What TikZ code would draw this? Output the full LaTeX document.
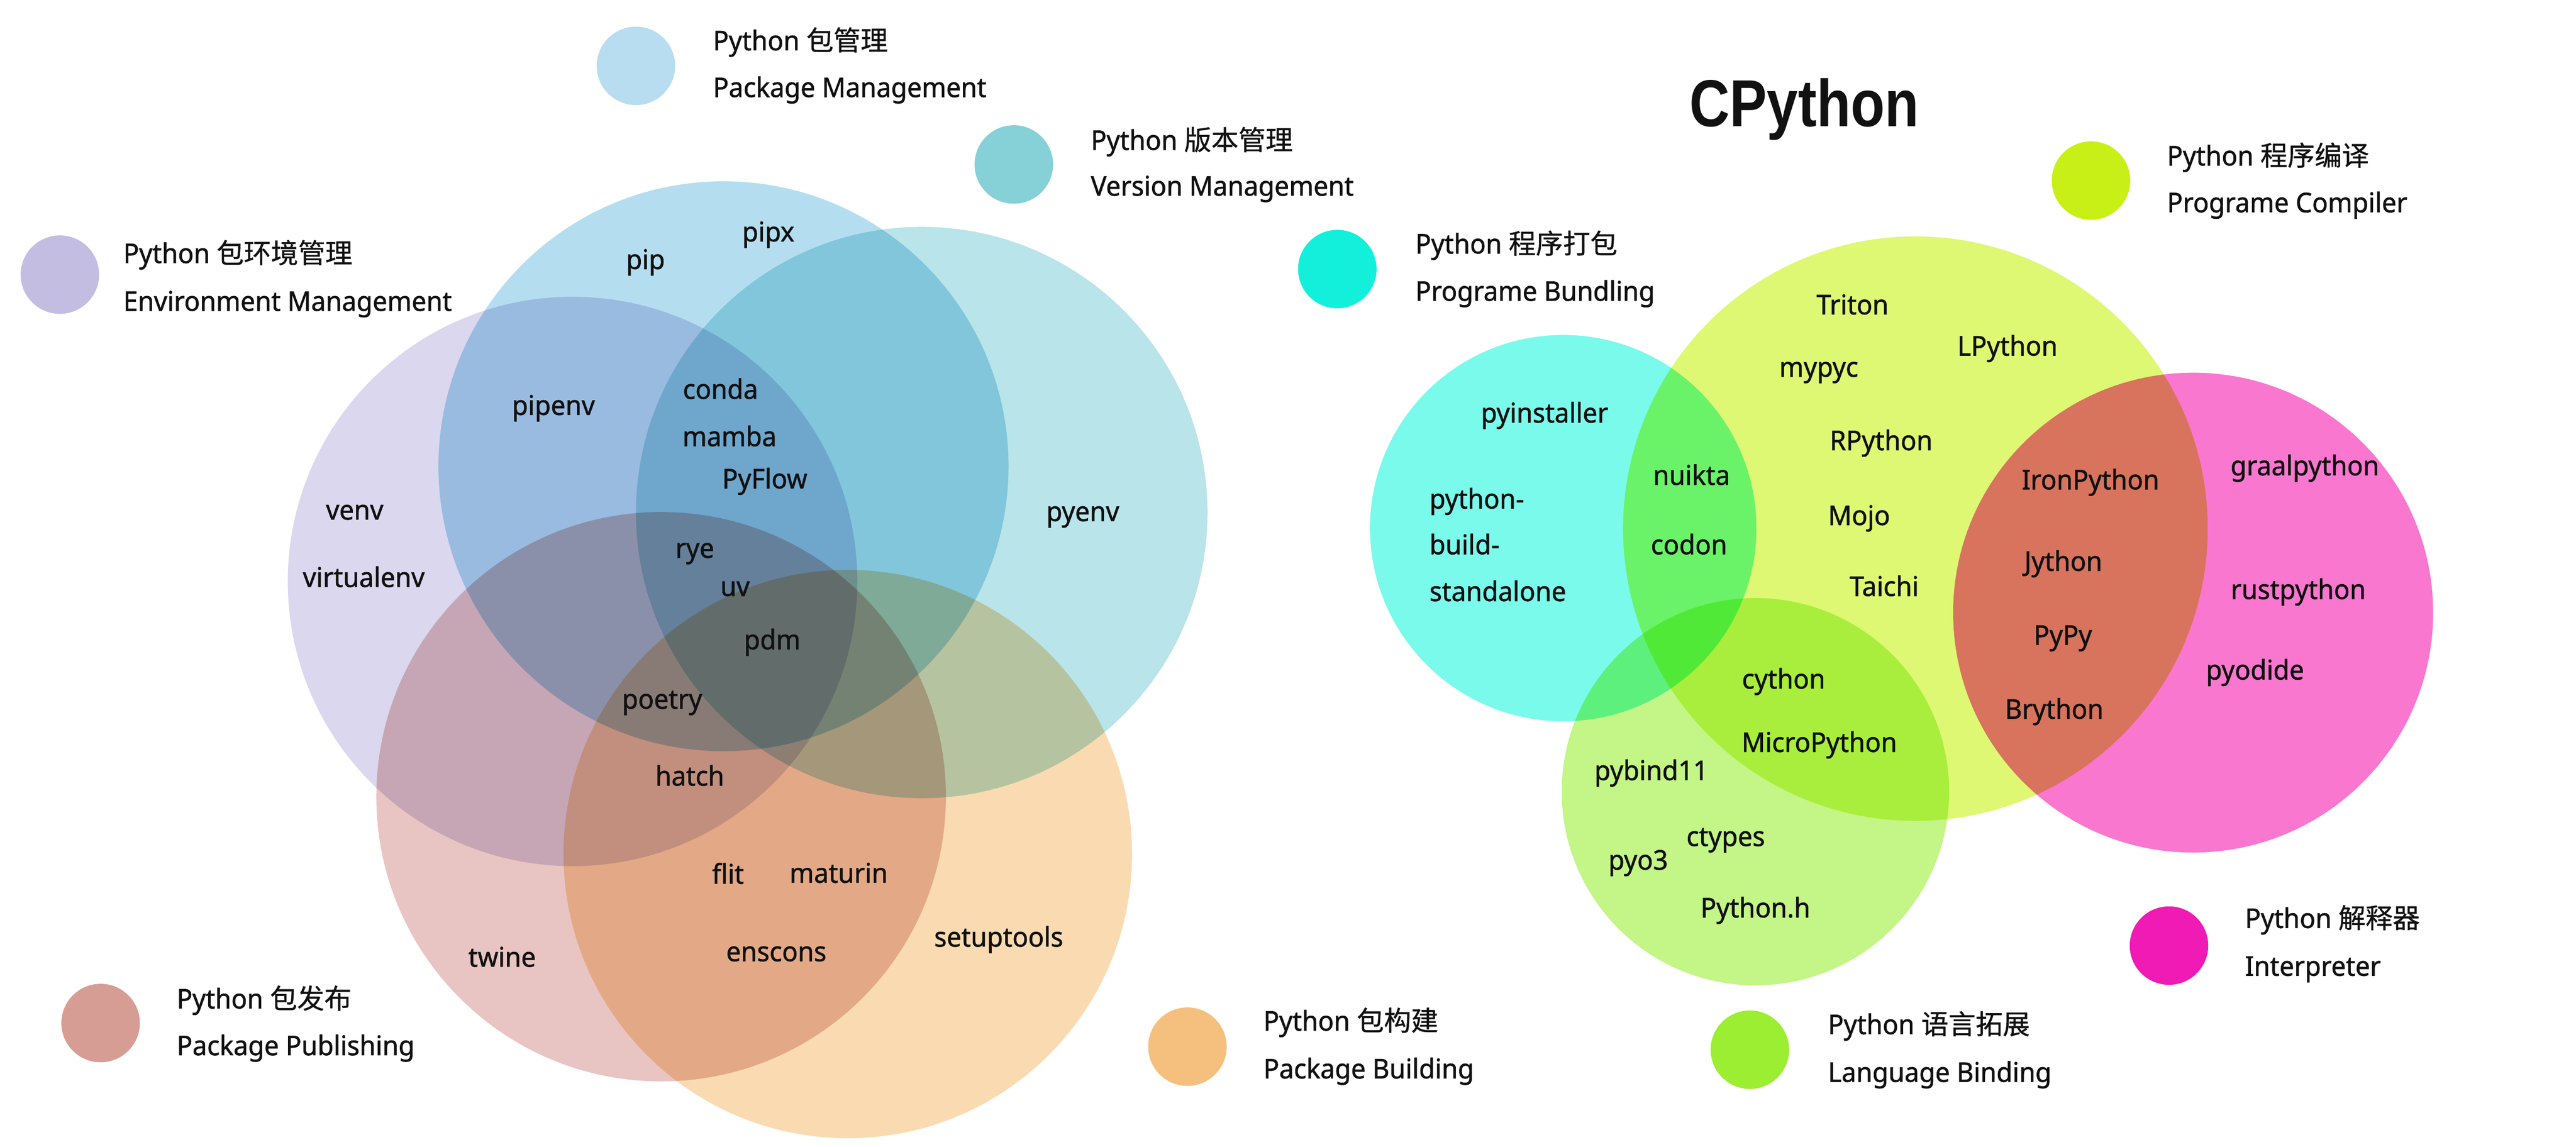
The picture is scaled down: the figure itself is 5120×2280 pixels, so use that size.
\documentclass[tikz,border=0pt]{standalone}
\usepackage{fontspec}
\setmainfont{Noto Sans}[FakeStretch=0.96, FakeBold=1.2]
\newfontfamily\cjk{Noto Sans CJK SC}[FakeBold=0.8]
\newfontfamily\titlefont{Liberation Sans}
\definecolor{cPM}{HTML}{B4DEF0}
\definecolor{cVM}{HTML}{B9E4E9}
\definecolor{cEM}{HTML}{DAD7EE}
\definecolor{cPP}{HTML}{E8C5C2}
\definecolor{cPB}{HTML}{FADBB1}
\definecolor{cBU}{HTML}{7AFAEB}
\definecolor{cCO}{HTML}{DEF873}
\definecolor{cIN}{HTML}{F977CF}
\definecolor{cLB}{HTML}{C3F587}
\definecolor{lPM}{HTML}{B8DDF0}
\definecolor{lVM}{HTML}{86D0D8}
\definecolor{lEM}{HTML}{C4BDE2}
\definecolor{lPP}{HTML}{D69D94}
\definecolor{lPB}{HTML}{F5C07E}
\definecolor{lBU}{HTML}{12F0DC}
\definecolor{lCO}{HTML}{C8F016}
\definecolor{lIN}{HTML}{F01AB4}
\definecolor{lLB}{HTML}{9BEE32}
\definecolor{ink}{HTML}{111111}
\begin{document}
\begin{tikzpicture}[x=1pt,y=-1pt,
  venn/.style={circle, draw=none, inner sep=0pt, minimum size=#1},
  lgd/.style={circle, draw=none, inner sep=0pt, minimum size=156pt},
  ltxt/.style={font=\fontsize{54}{60}\selectfont, text=ink, inner sep=0pt, anchor=base west},
  lbl/.style={font=\fontsize{54}{60}\selectfont, text=ink, inner sep=0pt, anchor=base},
  lblw/.style={font=\fontsize{54}{60}\selectfont, text=ink, inner sep=0pt, anchor=base west}]
\useasboundingbox (0,0) rectangle (5120,2280);
\fill[white] (0,0) rectangle (5120,2280);

\begin{scope}[blend mode=multiply]
% left Venn
\node[venn=1133pt, fill=cPM] (pm) at (1438,927) {};
\node[venn=1136pt, fill=cVM] (vm) at (1832,1019) {};
\node[venn=1132pt, fill=cEM] (em) at (1138,1156) {};
\node[venn=1132pt, fill=cPP] (pp) at (1314,1584) {};
\node[venn=1130pt, fill=cPB] (pb) at (1685,1698) {};
% right Venn
\node[venn=768pt, fill=cBU] (bu) at (3107,1050) {};
\node[venn=1162pt, fill=cCO] (co) at (3807,1051) {};
\node[venn=954pt, fill=cIN] (in) at (4359,1218) {};
\node[venn=770pt, fill=cLB] (lb) at (3489,1574) {};
\end{scope}

% legends
\node[lgd, fill=lPM] (lgpm) at (1264,131) {};
\node[ltxt] (tpm1) at (1417,100) {Python \cjk{包管理}};
\node[ltxt] (tpm2) at (1417,193) {Package Management};

\node[lgd, fill=lVM] (lgvm) at (2015,327) {};
\node[ltxt] (tvm1) at (2168,298) {Python \cjk{版本管理}};
\node[ltxt] (tvm2) at (2168,389) {Version Management};

\node[lgd, fill=lEM] (lgem) at (119,546) {};
\node[ltxt] (tem1) at (245,523) {Python \cjk{包环境管理}};
\node[ltxt] (tem2) at (245,618) {Environment Management};

\node[lgd, fill=lPP] (lgpp) at (200,2034) {};
\node[ltxt] (tpp1) at (351,2005) {Python \cjk{包发布}};
\node[ltxt] (tpp2) at (351,2098) {Package Publishing};

\node[lgd, fill=lPB] (lgpb) at (2360,2081) {};
\node[ltxt] (tpb1) at (2511,2049) {Python \cjk{包构建}};
\node[ltxt] (tpb2) at (2511,2144) {Package Building};

\node[lgd, fill=lBU] (lgbu) at (2658,535) {};
\node[ltxt] (tbu1) at (2813,504) {Python \cjk{程序打包}};
\node[ltxt] (tbu2) at (2813,598) {Programe Bundling};

\node[lgd, fill=lCO] (lgco) at (4156,359) {};
\node[ltxt] (tco1) at (4307,329) {Python \cjk{程序编译}};
\node[ltxt] (tco2) at (4307,422) {Programe Compiler};

\node[lgd, fill=lIN] (lgin) at (4311,1880) {};
\node[ltxt] (tin1) at (4462,1845) {Python \cjk{解释器}};
\node[ltxt] (tin2) at (4462,1940) {Interpreter};

\node[lgd, fill=lLB] (lglb) at (3478,2087) {};
\node[ltxt] (tlb1) at (3633,2056) {Python \cjk{语言拓展}};
\node[ltxt] (tlb2) at (3633,2151) {Language Binding};

% title
\node[font=\titlefont\bfseries\fontsize{132}{140}\selectfont, text=ink, inner sep=0pt, anchor=base] (title) at (3586,251) {\scalebox{0.84}[1]{CPython}};

% left labels
\node[lbl] (pip) at (1283,535) {pip};
\node[lbl] (pipx) at (1527,480) {pipx};
\node[lbl] (pipenv) at (1100,825) {pipenv};
\node[lbl] (conda) at (1432,793) {conda};
\node[lbl] (mamba) at (1450,887) {mamba};
\node[lbl] (pyflow) at (1520,971) {PyFlow};
\node[lbl] (venv) at (705,1033) {venv};
\node[lbl] (pyenv) at (2152,1036) {pyenv};
\node[lbl] (rye) at (1381,1109) {rye};
\node[lbl] (virtualenv) at (723,1167) {virtualenv};
\node[lbl] (uv) at (1461,1185) {uv};
\node[lbl] (pdm) at (1535,1291) {pdm};
\node[lbl] (poetry) at (1316,1409) {poetry};
\node[lbl] (hatch) at (1371,1562) {hatch};
\node[lbl] (flit) at (1447,1757) {flit};
\node[lbl] (maturin) at (1667,1755) {maturin};
\node[lbl] (twine) at (998,1922) {twine};
\node[lbl] (enscons) at (1543,1911) {enscons};
\node[lbl] (setuptools) at (1985,1882) {setuptools};

% right labels
\node[lbl] (triton) at (3682,625) {Triton};
\node[lbl] (lpython) at (3990,707) {LPython};
\node[lbl] (mypyc) at (3615,749) {mypyc};
\node[lbl] (pyinstaller) at (3070,840) {pyinstaller};
\node[lbl] (rpython) at (3739,895) {RPython};
\node[lbl] (ironpython) at (4155,973) {IronPython};
\node[lbl] (graalpython) at (4581,945) {graalpython};
\node[lbl] (nuikta) at (3362,964) {nuikta};
\node[lblw] (pbs1) at (2841,1011) {python-};
\node[lblw] (pbs2) at (2841,1102) {build-};
\node[lblw] (pbs3) at (2841,1195) {standalone};
\node[lbl] (mojo) at (3695,1044) {Mojo};
\node[lbl] (codon) at (3357,1102) {codon};
\node[lbl] (jython) at (4101,1135) {Jython};
\node[lbl] (taichi) at (3745,1185) {Taichi};
\node[lbl] (rustpython) at (4568,1191) {rustpython};
\node[lbl] (pypy) at (4100,1282) {PyPy};
\node[lbl] (pyodide) at (4482,1351) {pyodide};
\node[lbl] (cython) at (3545,1369) {cython};
\node[lbl] (brython) at (4083,1429) {Brython};
\node[lbl] (micropython) at (3616,1495) {MicroPython};
\node[lbl] (pybind) at (3282,1551) {pybind11};
\node[lbl] (ctypes) at (3430,1682) {ctypes};
\node[lbl] (pyo3) at (3256,1729) {pyo3};
\node[lbl] (pythonh) at (3489,1824) {Python.h};
\end{tikzpicture}
\end{document}
